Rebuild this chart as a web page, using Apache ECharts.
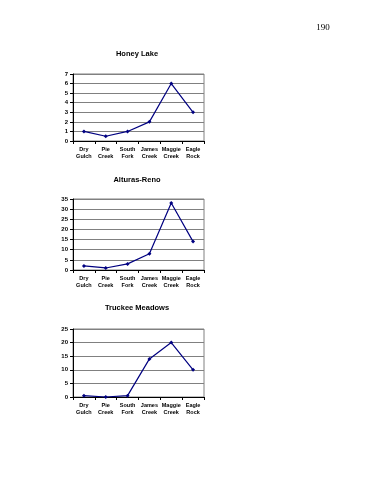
<!DOCTYPE html>
<html><head><meta charset="utf-8">
<script src="https://cdn.jsdelivr.net/npm/echarts@6/dist/echarts.min.js"></script>
<style>html,body{margin:0;padding:0;background:#fff;}#c{width:386px;height:500px;}</style>
</head><body><div id="c"></div>
<script>
const categories = ["Dry\nGulch","Pie\nCreek","South\nFork","James\nCreek","Maggie\nCreek","Eagle\nRock"];
const titles = ["Honey Lake","Alturas-Reno","Truckee Meadows"];
const honeyLake = [1, 0.5, 1, 2, 6, 3];
const alturasReno = [2, 1, 3, 8, 33, 14];
const truckeeMeadows = [0.5, 0, 0.5, 14, 20, 10];
const yMax = [7, 35, 25];
const yInterval = [1, 5, 5];
const pageNumber = "190";

const seriesData = [honeyLake, alturasReno, truckeeMeadows];
const grids = [
  {left:73, width:131, top:74, height:67},
  {left:73, width:131, top:199, height:71},
  {left:73, width:131, top:329, height:68}
];
const titleTops = [45, 171, 299];
const font = "Liberation Sans, Arial, sans-serif";

const option = {
  animation:false,
  title: titles.map((t,i)=>({text:t, left:132, top:titleTops[i], textAlign:'center',
    textStyle:{fontFamily:font, fontSize:7.5, fontWeight:'bold', color:'#000'}})).concat([
    {text:pageNumber, left:318, top:18, textAlign:'center', textStyle:{fontFamily:'Liberation Serif, serif', fontSize:9, fontWeight:'normal', color:'#000'}}
  ]),
  grid: grids.map(g=>Object.assign({show:true, borderColor:'#808080', borderWidth:1, backgroundColor:'#fff'}, g)),
  xAxis: grids.map((g,i)=>({gridIndex:i, type:'category', data:categories, boundaryGap:true,
    axisLine:{lineStyle:{color:'#000', width:1}}, axisTick:{show:true, alignWithLabel:false, length:3, lineStyle:{color:'#000'}},
    axisLabel:{fontFamily:font, fontSize:5.5, fontWeight:'bold', color:'#000', lineHeight:7, margin:5, interval:0}})),
  yAxis: grids.map((g,i)=>({gridIndex:i, type:'value', min:0, max:yMax[i], interval:yInterval[i],
    axisLine:{show:true, lineStyle:{color:'#000', width:1}}, axisTick:{show:true, length:3, lineStyle:{color:'#000'}},
    splitLine:{show:true, lineStyle:{color:'#808080', width:1}},
    axisLabel:{fontFamily:font, fontSize:6, fontWeight:'bold', color:'#000', margin:5}})),
  series: seriesData.map((d,i)=>({type:'line', xAxisIndex:i, yAxisIndex:i, data:d,
    symbol:'diamond', symbolSize:4, lineStyle:{color:'#000080', width:1.2}, itemStyle:{color:'#000080'}}))
};
echarts.init(document.getElementById('c'), null, {renderer:'canvas'}).setOption(option);
</script></body></html>
